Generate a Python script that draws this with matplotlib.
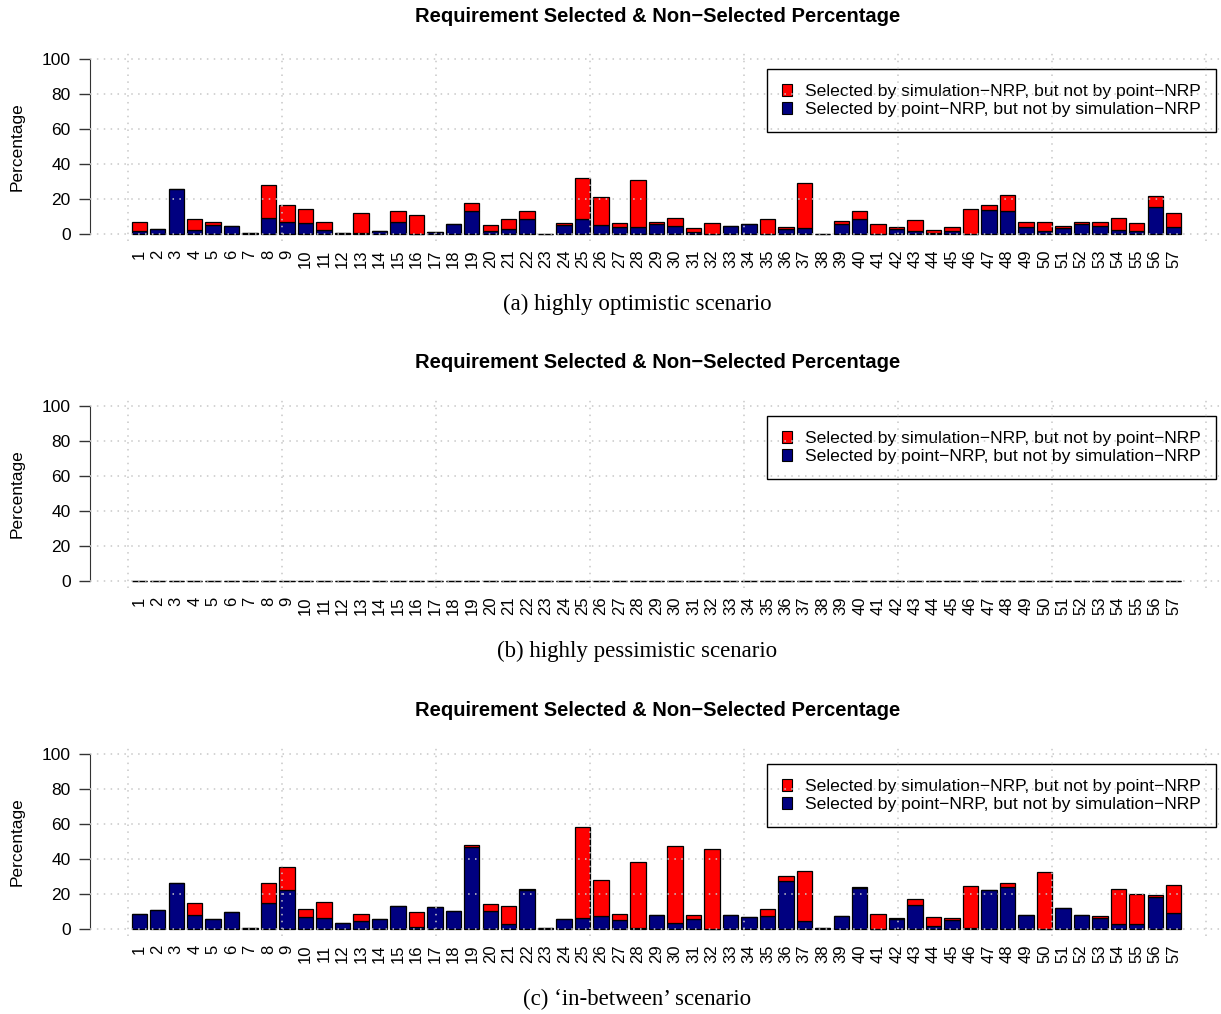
import matplotlib
matplotlib.use("Agg")
import matplotlib.pyplot as plt
from matplotlib.patches import Patch
import numpy as np

plt.rcParams["font.family"] = ["Liberation Sans", "DejaVu Sans"]

requirements = [str(i) for i in range(1, 58)]

# (a) highly optimistic scenario
opt_point = [1.5, 2.9, 25.9, 2.3, 5.1, 4.6, 0.3, 9.3, 7.0, 6.1, 2.3, 0.8, 0.3, 1.9, 7.0,
             0.0, 1.1, 5.7, 13.1, 1.9, 3.0, 8.4, 0.2, 5.3, 8.4, 5.3, 3.8, 4.2, 5.9, 4.6,
             1.3, 0.0, 4.6, 5.7, 0.0, 2.9, 3.4, 0.2, 5.9, 8.6, 0.0, 2.9, 1.7, 0.3, 1.9,
             0.0, 13.7, 13.0, 4.0, 1.7, 3.6, 5.7, 4.8, 2.5, 1.7, 15.6, 3.8]
opt_sim = [5.2, 0.0, 0.0, 6.3, 1.6, 0.0, 0.0, 18.7, 9.8, 8.2, 4.6, 0.0, 11.7, 0.0, 6.0,
           11.0, 0.0, 0.0, 4.4, 3.4, 5.8, 4.9, 0.0, 1.2, 23.8, 16.0, 2.7, 26.8, 1.0, 4.4,
           2.1, 6.1, 0.0, 0.0, 8.4, 0.9, 25.9, 0.0, 1.3, 4.4, 5.7, 1.1, 6.5, 2.2, 2.3,
           14.5, 3.1, 9.1, 2.9, 5.0, 0.8, 1.2, 2.1, 6.6, 4.6, 6.1, 8.0]

# (b) highly pessimistic scenario
pes_point = [0.0] * 57
pes_sim = [0.0] * 57

# (c) 'in-between' scenario
mid_point = [8.4, 10.9, 26.3, 8.2, 5.7, 9.5, 0.4, 14.9, 22.3, 7.0, 6.1, 3.6, 4.4, 5.5, 13.0,
             1.0, 12.6, 10.3, 46.9, 10.3, 2.9, 22.1, 0.4, 5.7, 6.3, 7.2, 5.0, 0.6, 8.0, 3.2,
             5.5, 0.0, 8.2, 7.0, 7.4, 27.6, 4.6, 0.4, 7.4, 23.6, 0.0, 5.7, 13.7, 1.5, 5.3,
             0.4, 22.3, 23.8, 7.8, 0.0, 11.8, 7.8, 6.1, 2.7, 2.7, 18.5, 9.1]
mid_sim = [0.0, 0.0, 0.0, 6.5, 0.0, 0.0, 0.0, 11.4, 13.1, 4.4, 9.1, 0.0, 4.2, 0.0, 0.0,
           8.5, 0.0, 0.0, 1.1, 4.2, 10.1, 0.6, 0.0, 0.0, 51.8, 20.8, 3.4, 37.5, 0.0, 44.0,
           2.3, 45.5, 0.0, 0.0, 4.0, 2.7, 28.5, 0.0, 0.0, 0.6, 8.8, 0.8, 3.3, 5.4, 1.0,
           24.2, 0.0, 2.3, 0.0, 32.4, 0.0, 0.0, 1.1, 20.0, 17.1, 0.7, 16.0]

panels = [
    (opt_point, opt_sim, "(a) highly optimistic scenario", 234),
    (pes_point, pes_sim, "(b) highly pessimistic scenario", 581),
    (mid_point, mid_sim, "(c) \u2018in-between\u2019 scenario", 929),
]

title = "Requirement Selected & Non\u2212Selected Percentage"
lab_sim = "Selected by simulation\u2212NRP, but not by point\u2212NRP"
lab_point = "Selected by point\u2212NRP, but not by simulation\u2212NRP"

W, H = 1221, 1014
fig = plt.figure(figsize=(W / 100, H / 100), dpi=100)

px_per_unit = 1.75
left_px, right_px = 90, 1223
x = 0.7 + 1.2 * np.arange(len(requirements))

for point, sim, caption, zero_px in panels:
    top_px = zero_px - 104 * px_per_unit
    bot_px = zero_px + 4 * px_per_unit
    ax = fig.add_axes([left_px / W, 1 - bot_px / H, (right_px - left_px) / W, (bot_px - top_px) / H])
    ax.bar(x, point, width=1, color="#000080", edgecolor="black", linewidth=0.9, zorder=2)
    ax.bar(x, sim, width=1, bottom=point, color="#ff0000", edgecolor="black", linewidth=0.9, zorder=2)
    ax.set_xlim(-2.5, 71.1)
    ax.set_ylim(-4, 104)

    for s in ["top", "right", "bottom"]:
        ax.spines[s].set_visible(False)
    ax.spines["left"].set_bounds(0, 100)
    ax.spines["left"].set_color("#333333")
    ax.set_yticks(range(0, 101, 20))
    ax.tick_params(axis="y", length=8, width=1, color="#333333", labelsize=12.5, pad=6)
    ax.set_xticks(x)
    ax.set_xticklabels(requirements, rotation=90, fontsize=12)
    ax.tick_params(axis="x", length=0, pad=6)
    ax.set_ylabel("Percentage", fontsize=12.5)
    ax.yaxis.set_label_coords((25 - left_px) / (right_px - left_px), 0.5)

    # dotted grid drawn over the bars, like R's grid()
    for gy in range(0, 101, 20):
        ax.axhline(gy, color="#c8c8c8", linestyle=(0, (1, 3.5)), linewidth=1.1, zorder=6)
    for gx in range(0, 71, 10):
        ax.axvline(gx, color="#c8c8c8", linestyle=(0, (1, 3.5)), linewidth=1.1, zorder=6)

    leg = ax.legend(
        handles=[Patch(facecolor="#ff0000", edgecolor="black", linewidth=0.8),
                 Patch(facecolor="#000080", edgecolor="black", linewidth=0.8)],
        labels=[lab_sim, lab_point],
        loc="upper right",
        bbox_to_anchor=(1216 / W, 1 - (zero_px - 165) / H),
        bbox_transform=fig.transFigure,
        fontsize=12.6, frameon=True, fancybox=False, framealpha=1,
        edgecolor="black", handlelength=0.6, handleheight=0.65,
        handletextpad=0.75, borderpad=0.85, labelspacing=0.2, borderaxespad=0,
    )
    leg.get_frame().set_linewidth(1.0)
    leg.set_zorder(4)

    fig.text(658 / W, 1 - (zero_px - 218) / H, title, ha="center", va="center",
             fontsize=14.5, fontweight="bold")
    fig.text(637 / W, 1 - (zero_px + 70) / H, caption, ha="center", va="center",
             fontsize=16.5, family=["Liberation Serif", "DejaVu Serif"])

fig.savefig("out.png", dpi=100)
